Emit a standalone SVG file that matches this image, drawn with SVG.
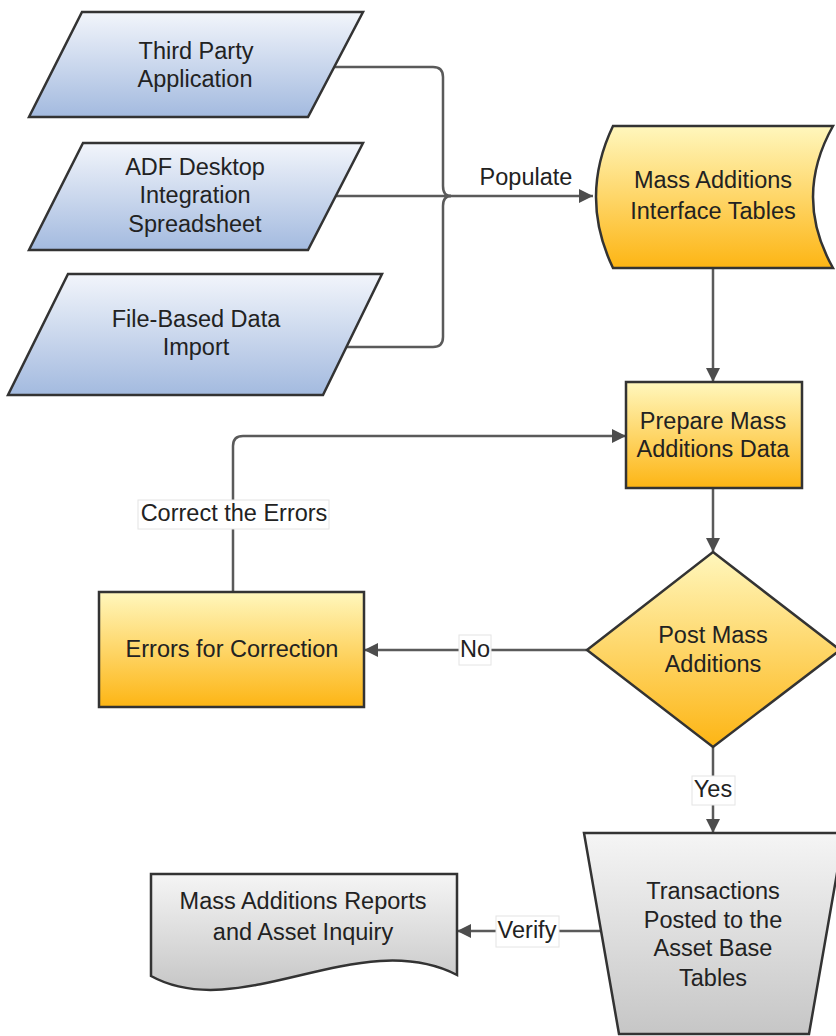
<svg xmlns="http://www.w3.org/2000/svg" width="836" height="1036" viewBox="0 0 836 1036">
<style>
.t{font-family:"Liberation Sans",Arial,sans-serif;font-size:23.5px;fill:#222;text-anchor:middle}
.shape{stroke:#333;stroke-width:2.5;stroke-linejoin:miter}
.blue{fill:url(#gBlue)}
.orange{fill:url(#gOrange)}
.grey{fill:url(#gGrey)}
.line{fill:none;stroke:#5a5a5a;stroke-width:2.5}
.lbl{fill:#fff;stroke:#e4e4e4;stroke-width:1}
</style>
<defs>
<linearGradient id="gBlue" x1="0" y1="0" x2="0" y2="1">
<stop offset="0" stop-color="#f2f5fb"/><stop offset="1" stop-color="#a3badf"/>
</linearGradient>
<linearGradient id="gOrange" x1="0" y1="0" x2="0" y2="1">
<stop offset="0" stop-color="#fff7bd"/><stop offset="1" stop-color="#fdb514"/>
</linearGradient>
<linearGradient id="gGrey" x1="0" y1="0" x2="0" y2="1">
<stop offset="0" stop-color="#f5f5f5"/><stop offset="1" stop-color="#c6c6c6"/>
</linearGradient>
<marker id="arr" markerUnits="userSpaceOnUse" markerWidth="14" markerHeight="14" viewBox="0 0 14 14" refX="14" refY="7" orient="auto">
<path d="M0,0 L14,7 L0,14 Z" fill="#4d4d4d"/>
</marker>
</defs>

<g id="connectors">
<path class="line" d="M334,67 H433 Q443,67 443,77 V186 Q443,196 451,196"/>
<path class="line" d="M346,347 H433 Q443,347 443,337 V206 Q443,196 451,196"/>
<path class="line" d="M336,196 H593" marker-end="url(#arr)"/>
<path class="line" d="M713,268 V382" marker-end="url(#arr)"/>
<path class="line" d="M713,488 V552" marker-end="url(#arr)"/>
<path class="line" d="M587,650 H364" marker-end="url(#arr)"/>
<path class="line" d="M233,592 V446 Q233,436 243,436 H626" marker-end="url(#arr)"/>
<path class="line" d="M713,747 V833" marker-end="url(#arr)"/>
<path class="line" d="M601,931 H457" marker-end="url(#arr)"/>
<text class="t" x="526" y="185">Populate</text>
<rect class="lbl" x="138" y="500" width="191" height="29"/>
<text class="t" x="234" y="521">Correct the Errors</text>
<rect class="lbl" x="459" y="635" width="32" height="30"/>
<text class="t" x="475" y="657">No</text>
<rect class="lbl" x="692" y="776" width="43" height="29"/>
<text class="t" x="713" y="797">Yes</text>
<rect class="lbl" x="496" y="916" width="63" height="31"/>
<text class="t" x="527" y="938">Verify</text>
</g>

<g id="third-party">
<path class="shape blue" d="M82,12 H363 L308,117 H29 Z"/>
<text class="t" x="196" y="59">Third Party</text>
<text class="t" x="195" y="87">Application</text>
</g>

<g id="adf">
<path class="shape blue" d="M83,143 H363 L308,250 H29 Z"/>
<text class="t" x="195" y="175">ADF Desktop</text>
<text class="t" x="195" y="203">Integration</text>
<text class="t" x="195" y="232">Spreadsheet</text>
</g>

<g id="fbdi">
<path class="shape blue" d="M68,274 H382 L323,395 H8 Z"/>
<text class="t" x="196" y="327">File-Based Data</text>
<text class="t" x="196" y="355">Import</text>
</g>

<g id="interface-tables">
<path class="shape orange" d="M613,126 H833 Q793,197 833,268 H613 Q579,197 613,126 Z"/>
<text class="t" x="713" y="188">Mass Additions</text>
<text class="t" x="713" y="219">Interface Tables</text>
</g>

<g id="prepare">
<rect class="shape orange" x="626" y="382" width="176" height="106"/>
<text class="t" x="713" y="429">Prepare Mass</text>
<text class="t" x="713" y="457">Additions Data</text>
</g>

<g id="post">
<path class="shape orange" d="M713,552 L840,650 L713,747 L587,650 Z"/>
<text class="t" x="713" y="643">Post Mass</text>
<text class="t" x="713" y="672">Additions</text>
</g>

<g id="errors">
<rect class="shape orange" x="99" y="592" width="265" height="115"/>
<text class="t" x="232" y="657">Errors for Correction</text>
</g>

<g id="transactions">
<path class="shape grey" d="M584,833 H844 L809,1034 H619 Z"/>
<text class="t" x="713" y="899">Transactions</text>
<text class="t" x="713" y="928">Posted to the</text>
<text class="t" x="713" y="956">Asset Base</text>
<text class="t" x="713" y="986">Tables</text>
</g>

<g id="reports">
<path class="shape grey" d="M151,874 H457 V975 C360,925 240,1025 151,976 Z"/>
<text class="t" x="303" y="909">Mass Additions Reports</text>
<text class="t" x="303" y="940">and Asset Inquiry</text>
</g>
</svg>
